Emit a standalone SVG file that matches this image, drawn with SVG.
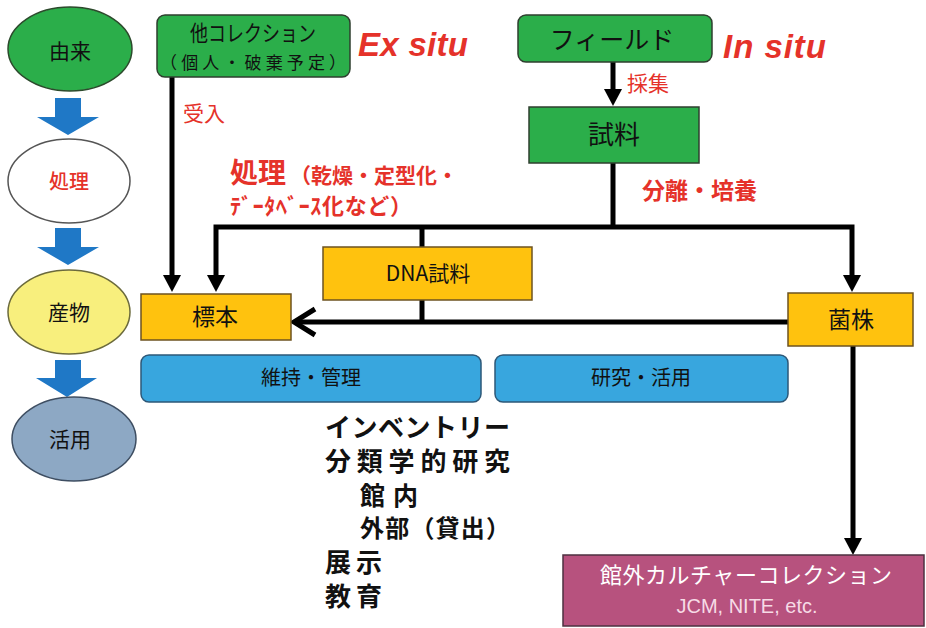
<svg xmlns="http://www.w3.org/2000/svg" width="926" height="628" viewBox="0 0 926 628">
<style>
text{font-family:"Noto Sans CJK JP","Noto Sans",sans-serif;}
.lat{font-family:"Liberation Sans","Noto Sans CJK JP",sans-serif;}
.red{fill:#e5322a;}
.b{font-weight:700;}
.ctr{text-anchor:middle;}
.conn{fill:none;stroke:#000;stroke-width:5;stroke-linejoin:miter;}
.green{fill:#2bae4a;stroke:#2f3f2f;stroke-width:1.5;}
.gold{fill:#ffc20e;stroke:#6e5320;stroke-width:1.5;}
.blue{fill:#38a6de;stroke:#2d5878;stroke-width:1.5;}
.barrow{fill:#1f78c6;}
</style>
<defs>
<marker id="ah" viewBox="0 -9 17 18" refX="0" refY="0" markerUnits="userSpaceOnUse" markerWidth="17" markerHeight="18" orient="auto-start-reverse">
<path d="M0,-9 L17,0 L0,9 z" fill="#000"/>
</marker>
</defs>

<!-- left stage column -->
<g id="stage-yurai">
<ellipse cx="70" cy="49" rx="62" ry="42" fill="#2bae4a" stroke="#2c4a2c" stroke-width="1.5"/>
<text x="70" y="59" class="ctr" font-size="21" fill="#111">由来</text>
</g>
<g id="stage-arrow1"><path class="barrow" d="M55,98 H81 V117 H99 L68,135 L37,117 H55 Z"/></g>
<g id="stage-shori">
<ellipse cx="69" cy="181" rx="61" ry="42" fill="#fff" stroke="#555" stroke-width="1.5"/>
<text x="69" y="189" class="ctr red" font-weight="500" font-size="20">処理</text>
</g>
<g id="stage-arrow2"><path class="barrow" d="M55,228 H81 V247 H99 L68,265 L37,247 H55 Z"/></g>
<g id="stage-sanbutsu">
<ellipse cx="69" cy="312" rx="61" ry="42" fill="#f8ef7d" stroke="#6b6a3c" stroke-width="1.5"/>
<text x="69" y="320" class="ctr" font-size="21" fill="#111">産物</text>
</g>
<g id="stage-arrow3"><path class="barrow" d="M55,360 H81 V378 H97 L67,397 L36,378 H55 Z"/></g>
<g id="stage-katsuyo">
<ellipse cx="74" cy="439" rx="62" ry="42" fill="#8da8c4" stroke="#3e4e62" stroke-width="1.5"/>
<text x="70" y="447" class="ctr" font-size="21" fill="#111">活用</text>
</g>

<!-- connectors -->
<g id="connectors">
<path class="conn" d="M172,77 V275" marker-end="url(#ah)"/>
<path class="conn" d="M613,62 V89" marker-end="url(#ah)"/>
<path class="conn" d="M613,163 V227"/>
<path class="conn" d="M216,275 V227 H852 V275" marker-start="url(#ah)" marker-end="url(#ah)"/>
<path class="conn" d="M422,227 V247"/>
<path class="conn" d="M422,300 V322"/>
<path class="conn" d="M788,322 H295"/>
<path class="conn" d="M315,309 L294,322 L315,335" stroke-width="6"/>
<path class="conn" d="M853,346 V538" marker-end="url(#ah)"/>
</g>

<!-- nodes -->
<g id="other-collection">
<rect x="157" y="15" width="193" height="62" rx="8" class="green"/>
<text x="253" y="41" class="ctr" font-size="22" fill="#111" textLength="126" lengthAdjust="spacingAndGlyphs">他コレクション</text>
<text x="253" y="69" class="ctr" font-size="17" fill="#111" textLength="186">（個人・破棄予定）</text>
</g>
<g id="label-exsitu"><text x="358" y="56" class="lat red b" font-size="33" font-style="italic" textLength="110">Ex situ</text></g>

<g id="field">
<rect x="518" y="15" width="194" height="47" rx="8" class="green"/>
<text x="612" y="49" class="ctr" font-size="25" fill="#111">フィールド</text>
</g>
<g id="label-insitu"><text x="723" y="58" class="lat red b" font-size="33" font-style="italic" textLength="103">In situ</text></g>

<g id="label-saishu"><text x="627" y="91" class="red" font-size="21">採集</text></g>

<g id="sample">
<rect x="529" y="107" width="170" height="56" class="green"/>
<text x="614" y="144" class="ctr" font-size="26" fill="#111">試料</text>
</g>

<g id="label-ukeire"><text x="183" y="121" class="red" font-size="21">受入</text></g>

<g id="label-shori">
<text x="230" y="183" class="red b"><tspan font-size="28">処理</tspan><tspan x="290" font-size="21">（乾燥・定型化・</tspan></text>
<text x="230" y="214" class="red b" font-size="22" textLength="182">ﾃﾞｰﾀﾍﾞｰｽ化など）</text>
</g>

<g id="label-bunri"><text x="642" y="199" class="red b" font-size="23">分離・培養</text></g>

<g id="dna-sample">
<rect x="323" y="247" width="209" height="53" class="gold"/>
<text x="428" y="281" class="ctr" font-size="21" fill="#111">DNA試料</text>
</g>

<g id="specimen">
<rect x="141" y="294" width="150" height="46" class="gold"/>
<text x="215" y="325" class="ctr" font-size="23" fill="#111">標本</text>
</g>

<g id="strain">
<rect x="788" y="293" width="125" height="53" class="gold"/>
<text x="851" y="328" class="ctr" font-size="23" fill="#111">菌株</text>
</g>

<g id="maintenance">
<rect x="141" y="355" width="340" height="47" rx="8" class="blue"/>
<text x="311" y="385" class="ctr" font-size="20" fill="#111">維持・管理</text>
</g>

<g id="research">
<rect x="495" y="355" width="293" height="47" rx="8" class="blue"/>
<text x="641" y="385" class="ctr" font-size="20" fill="#111">研究・活用</text>
</g>

<g id="usage-list" fill="#111">
<text x="325" y="437" class="b" font-size="26" textLength="185">インベントリー</text>
<text x="325" y="471" class="b" font-size="26" textLength="185">分類学的研究</text>
<text x="360" y="505" class="b" font-size="25" textLength="58">館内</text>
<text x="360" y="537" class="b" font-size="24" textLength="150">外部（貸出）</text>
<text x="325" y="572" class="b" font-size="26" textLength="57">展示</text>
<text x="325" y="606" class="b" font-size="26" textLength="57">教育</text>
</g>

<g id="external-collection">
<rect x="563" y="555" width="361" height="71" fill="#b7527e" stroke="#4e3040" stroke-width="1.5"/>
<text x="746" y="583" class="ctr" font-size="22" fill="#fff" textLength="292">館外カルチャーコレクション</text>
<text x="747" y="613" class="ctr lat" font-size="20" fill="#f6dbe6">JCM, NITE, etc.</text>
</g>
</svg>
